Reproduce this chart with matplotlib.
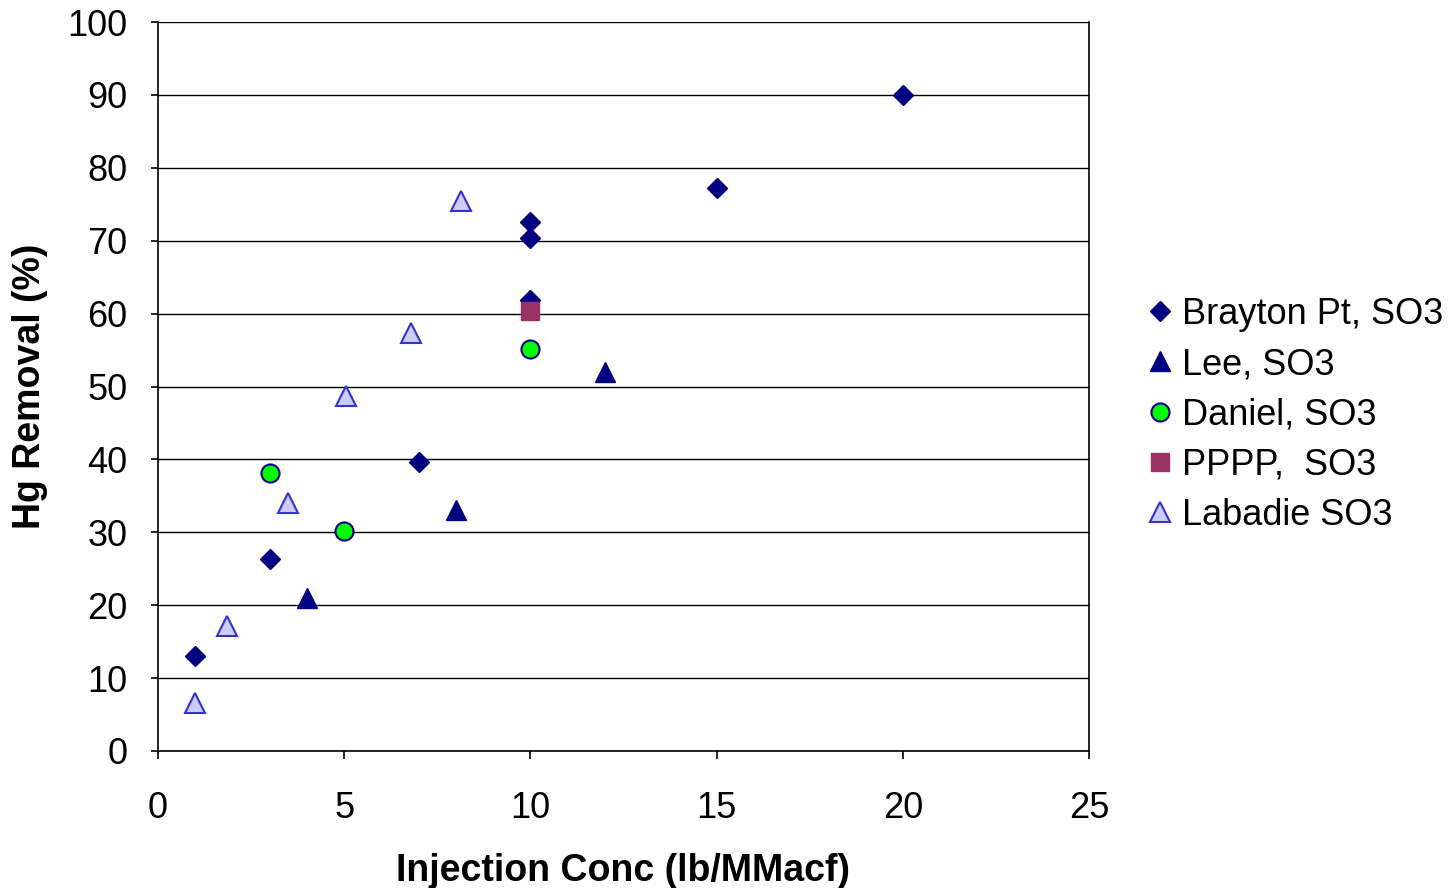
import matplotlib
matplotlib.use('Agg')
import matplotlib.pyplot as plt

plt.rcParams['font.family'] = ['Liberation Sans', 'DejaVu Sans']

# Data
brayton_x = [1, 3, 7, 10, 10, 10, 15, 20]
brayton_y = [13.0, 26.3, 39.7, 72.5, 70.4, 61.9, 77.2, 90.0]

lee_x = [4, 8, 12]
lee_y = [21.0, 33.0, 52.0]

daniel_x = [3, 5, 10]
daniel_y = [38.1, 30.2, 55.2]

pppp_x = [10]
pppp_y = [60.4]

labadie_x = [1.0, 1.85, 3.5, 5.05, 6.8, 8.15]
labadie_y = [6.6, 17.1, 34.0, 48.7, 57.4, 75.5]

fig = plt.figure(figsize=(14.52, 8.88), dpi=100)
ax = fig.add_axes([0.1088, 0.1543, 0.6412, 0.8209])

ax.plot(brayton_x, brayton_y, linestyle='none', marker='D', markersize=10.5,
        color='#000080', label='Brayton Pt, SO3', zorder=3)
ax.plot(lee_x, lee_y, linestyle='none', marker='^', markersize=14,
        color='#000080', label='Lee, SO3', zorder=3)
ax.plot(daniel_x, daniel_y, linestyle='none', marker='o', markersize=13,
        markerfacecolor='#00FF00', markeredgecolor='#000080', markeredgewidth=1.5,
        label='Daniel, SO3', zorder=3)
ax.plot(pppp_x, pppp_y, linestyle='none', marker='s', markersize=13,
        color='#993366', label='PPPP,  SO3', zorder=3)
ax.plot(labadie_x, labadie_y, linestyle='none', marker='^', markersize=14,
        markerfacecolor='#CCCCFF', markeredgecolor='#3333CC', markeredgewidth=1.5,
        label='Labadie SO3', zorder=3)

ax.set_xlim(0, 25)
ax.set_ylim(0, 100)
ax.set_xticks(range(0, 26, 5))
ax.set_yticks(range(0, 101, 10))
ax.yaxis.grid(True, color='black', linewidth=1)
ax.set_axisbelow(True)

for side in ['left', 'bottom', 'right']:
    ax.spines[side].set_color('black')
    ax.spines[side].set_linewidth(1.2)
ax.spines['top'].set_visible(False)

ax.tick_params(axis='x', direction='out', length=6, width=1.2, pad=23, labelsize=26)
ax.tick_params(axis='y', direction='out', length=5, width=1.2, pad=17, labelsize=26)

ax.set_xlabel('Injection Conc (lb/MMacf)', fontsize=27, fontweight='bold', labelpad=19)
ax.set_ylabel('Hg Removal (%)', fontsize=27, fontweight='bold', labelpad=14)

fig.legend(loc='center left', bbox_to_anchor=(0.778, 0.533), frameon=False,
           fontsize=26, handletextpad=0.15, labelspacing=0.42, handlelength=0.9,
           borderaxespad=0)

fig.savefig('out.png', dpi=100)
